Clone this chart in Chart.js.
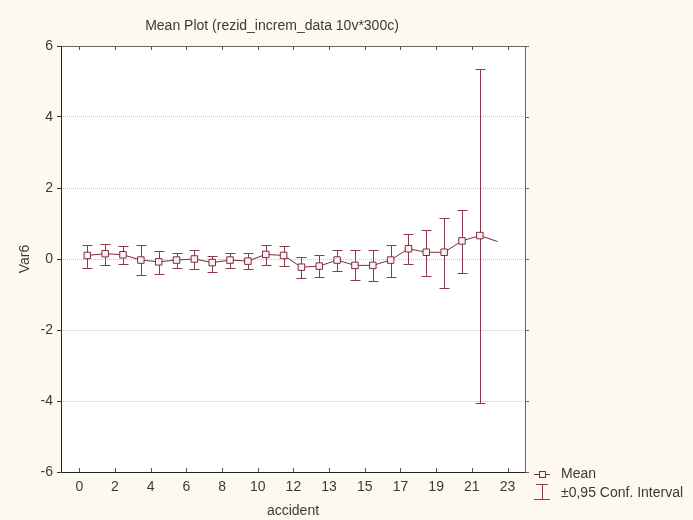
<!DOCTYPE html>
<html>
<head>
<meta charset="utf-8">
<title>Mean Plot</title>
<script src="https://cdn.jsdelivr.net/npm/chart.js@4/dist/chart.umd.min.js"></script>
<style>
  html, body { margin:0; padding:0; background:#fdf9ef; }
  #wrap { width:693px; height:520px; }
</style>
</head>
<body>
<div id="wrap"><canvas id="chartMean" width="693" height="520"></canvas></div>
<script>
// accident groups, one mean and one 95% interval per group (last group has no interval)
const accident = [0,1,2,3,4,5,6,7,8,9,10,11,12,13,14,15,16,17,18,19,20,21,22,23];
const meanVar6 = [0.10,0.15,0.12,-0.03,-0.08,-0.03,0.00,-0.10,-0.03,-0.06,0.13,0.10,
                  -0.23,-0.20,-0.03,-0.18,-0.18,-0.03,0.29,0.19,0.19,0.51,0.66,0.49];
const ciLow  = [-0.26,-0.16,-0.15,-0.45,-0.42,-0.25,-0.27,-0.36,-0.25,-0.28,-0.18,-0.21,
                -0.54,-0.52,-0.33,-0.59,-0.62,-0.51,-0.13,-0.48,-0.82,-0.40,-4.05,null];
const ciHigh = [0.39,0.43,0.37,0.39,0.23,0.18,0.24,0.08,0.18,0.18,0.39,0.37,
                0.06,0.12,0.26,0.25,0.25,0.39,0.70,0.83,1.15,1.39,5.34,null];

// axis labels along the bottom, one every second group
const tickLabels = ['0','2','4','6','8','10','12','13','15','17','19','21','23'];
const tickAt = tickLabels.map((s,k)=> 2*k - 0.45);
const yTicks = [-6,-4,-2,0,2,4,6];

const LINE = '#7d2b3a';
const BAR  = '#8e3a48';
const FONT = '"Liberation Sans", Arial, sans-serif';
const TXT  = '#3a3a3a';

const pts = meanVar6.map((m,i)=>({x:i, y:m}));

// white plot area + frame + inward ticks on the x axis
const frame = {
  id:'frame',
  beforeDraw(chart){
    const {ctx, chartArea:a} = chart;
    ctx.save();
    ctx.fillStyle = '#fdf9ef';
    ctx.fillRect(0,0,chart.width,chart.height);
    ctx.fillStyle = '#ffffff';
    ctx.fillRect(a.left,a.top,a.right-a.left,a.bottom-a.top);
    ctx.restore();
  },
  afterDraw(chart){
    const {ctx, chartArea:a, scales} = chart;
    ctx.save();
    ctx.lineWidth = 1;
    ctx.strokeStyle = '#666';
    ctx.beginPath();
    ctx.moveTo(a.left, a.top+0.5); ctx.lineTo(a.right+0.5, a.top+0.5);
    ctx.lineTo(a.right+0.5, a.bottom);
    ctx.stroke();
    // small outward ticks on the right side
    yTicks.forEach(v=>{
      const y = Math.round(scales.y.getPixelForValue(v))+0.5;
      ctx.beginPath(); ctx.moveTo(a.right, y); ctx.lineTo(a.right+4, y); ctx.stroke();
    });
    ctx.strokeStyle = '#222';
    ctx.beginPath();
    ctx.moveTo(a.left+0.5, a.top); ctx.lineTo(a.left+0.5, a.bottom+0.5);
    ctx.lineTo(a.right+0.5, a.bottom+0.5);
    ctx.stroke();
    ctx.strokeStyle = '#555';
    tickAt.forEach(v=>{
      const x = Math.round(scales.x.getPixelForValue(v))+0.5;
      ctx.beginPath(); ctx.moveTo(x, a.bottom); ctx.lineTo(x, a.bottom-4); ctx.stroke();
      ctx.beginPath(); ctx.moveTo(x, a.top); ctx.lineTo(x, a.top+4); ctx.stroke();
    });

    // title
    ctx.fillStyle = TXT;
    ctx.font = '14px ' + FONT;
    ctx.textAlign = 'center';
    ctx.textBaseline = 'middle';
    ctx.fillText('Mean Plot (rezid_increm_data 10v*300c)', 272, 26);

    // legend
    const lx = 542, ly1 = 474, ly2 = 492;
    ctx.strokeStyle = LINE;
    ctx.beginPath(); ctx.moveTo(lx-8, ly1+0.5); ctx.lineTo(lx+8, ly1+0.5); ctx.stroke();
    ctx.fillStyle = '#fbf3f1';
    ctx.fillRect(lx-3, ly1-3, 6, 6);
    ctx.strokeRect(lx-3+0.5, ly1-3+0.5, 6, 6);
    ctx.strokeStyle = BAR;
    ctx.beginPath();
    ctx.moveTo(lx-6, ly2-8+0.5); ctx.lineTo(lx+6, ly2-8+0.5);
    ctx.moveTo(lx+0.5, ly2-8); ctx.lineTo(lx+0.5, ly2+7);
    ctx.moveTo(lx-8, ly2+7+0.5); ctx.lineTo(lx+8, ly2+7+0.5);
    ctx.stroke();
    ctx.fillStyle = TXT;
    ctx.textAlign = 'left';
    ctx.fillText('Mean', 561, ly1);
    ctx.fillText('\u00b10,95 Conf. Interval', 561, ly2+1);
    ctx.restore();
  }
};

// vertical interval bars with caps, drawn under the markers
const errorBars = {
  id:'errorBars',
  beforeDatasetsDraw(chart){
    const {ctx, scales:{x, y}} = chart;
    ctx.save();
    ctx.strokeStyle = BAR;
    ctx.lineWidth = 1;
    accident.forEach((a,i)=>{
      if(ciLow[i]==null || ciHigh[i]==null) return;
      const px = Math.round(x.getPixelForValue(i))+0.5;
      const y0 = Math.round(y.getPixelForValue(ciLow[i]))+0.5;
      const y1 = Math.round(y.getPixelForValue(ciHigh[i]))+0.5;
      ctx.beginPath();
      ctx.moveTo(px, y0); ctx.lineTo(px, y1);
      ctx.moveTo(px-5, y0); ctx.lineTo(px+5, y0);
      ctx.moveTo(px-5, y1); ctx.lineTo(px+5, y1);
      ctx.stroke();
    });
    ctx.restore();
  }
};

new Chart(document.getElementById('chartMean'), {
  type:'line',
  data:{ datasets:[{
    label:'Mean',
    data: pts,
    borderColor: LINE,
    borderWidth: 1,
    tension: 0,
    pointStyle: 'rect',
    pointRadius: accident.map((a,i)=> ciLow[i]==null ? 0 : 4.6),
    pointBorderWidth: 1,
    pointBorderColor: LINE,
    pointBackgroundColor: '#fbf3f1'
  }]},
  options:{
    responsive:false,
    animation:false,
    events:[],
    layout:{ padding:{ left:0, top:46, right:168, bottom:0 } },
    plugins:{ legend:{display:false}, title:{display:false}, tooltip:{enabled:false} },
    scales:{
      x:{
        type:'linear',
        min:-1.474, max:24.53,
        afterFit(s){ s.height = 48; },
        afterBuildTicks(s){ s.ticks = tickAt.map(v=>({value:v})); },
        grid:{ display:true, drawOnChartArea:false, drawTicks:false, color:'transparent' },
        border:{ display:false },
        ticks:{ padding:7, color:TXT, font:{family:FONT, size:14},
                callback:(v,i)=> tickLabels[i], maxRotation:0, autoSkip:false },
        title:{ display:true, text:'accident', color:TXT, font:{family:FONT, size:14},
                padding:{top:4, bottom:0} }
      },
      y:{
        min:-6, max:6,
        afterFit(s){ s.width = 61; },
        afterBuildTicks(s){ s.ticks = yTicks.map(v=>({value:v})); },
        grid:{
          color: c => (c.tick && Math.abs(c.tick.value)===6) ? 'transparent' : '#c4c4c4',
          tickColor:'#333',
          tickLength:4,
          tickBorderDash:[],
          lineWidth:1
        },
        border:{ display:false, dash:[1,1] },
        ticks:{ padding:4, color:TXT, font:{family:FONT, size:14} },
        title:{ display:true, text:'Var6', color:TXT, font:{family:FONT, size:14},
                padding:{top:17, bottom:0} }
      }
    }
  },
  plugins:[frame, errorBars]
});
</script>
</body>
</html>
